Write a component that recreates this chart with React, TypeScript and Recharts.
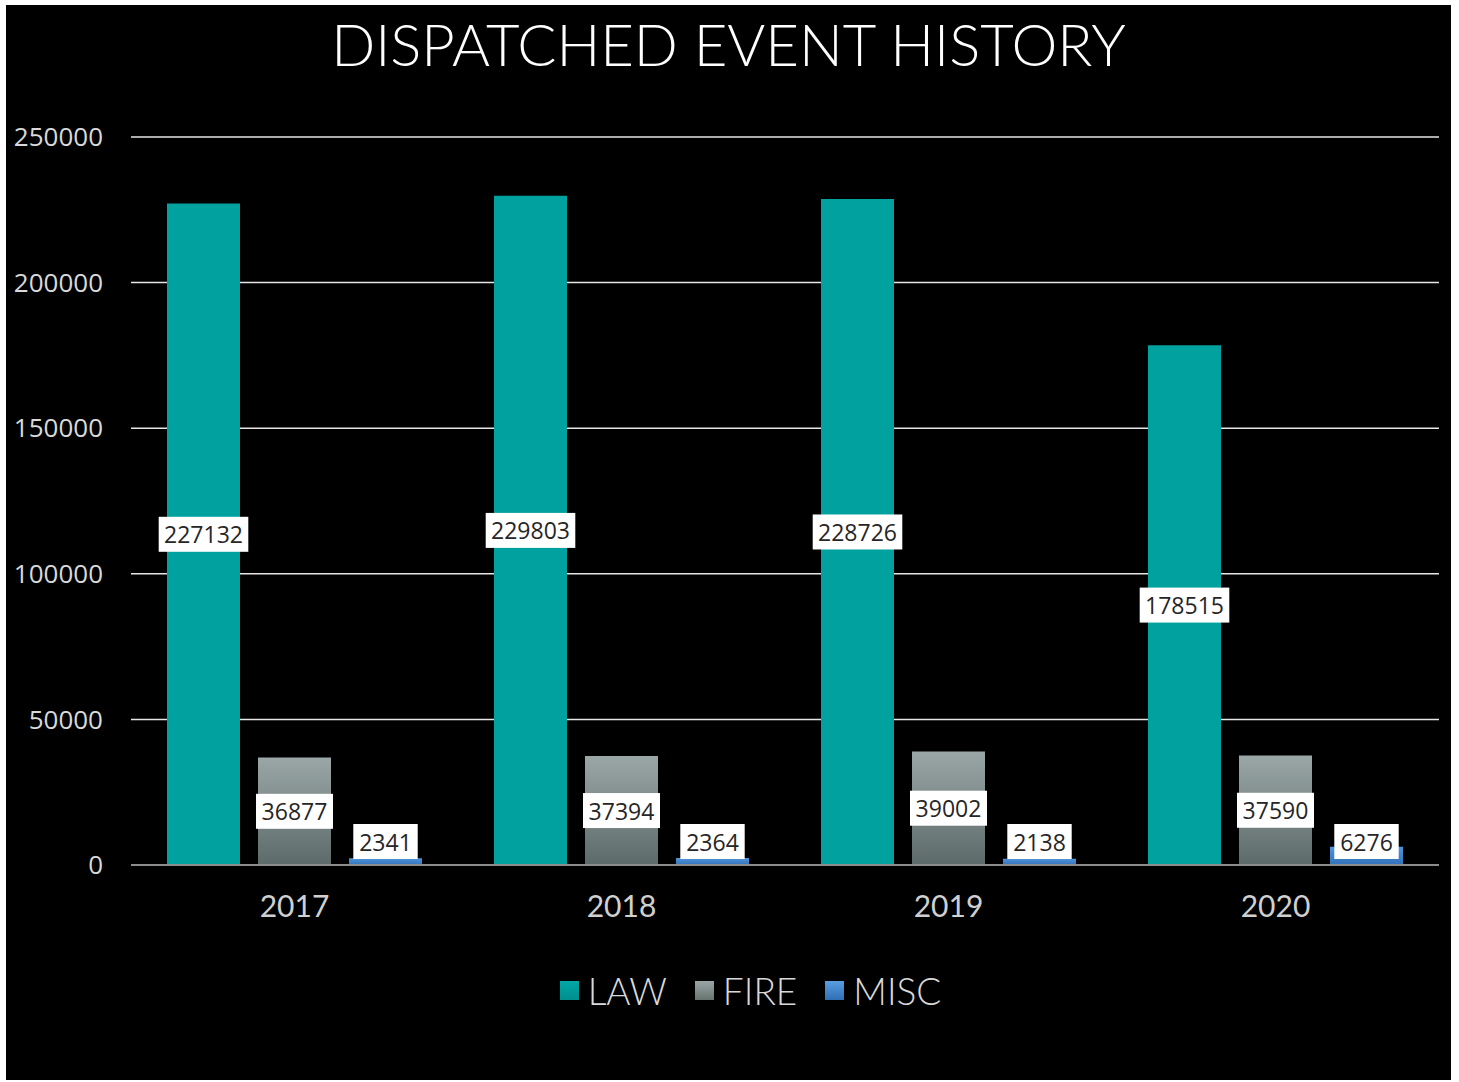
import { BarChart, Bar, XAxis, YAxis, CartesianGrid, LabelList } from 'recharts';

const years = ['2017', '2018', '2019', '2020'];
const law = [227132, 229803, 228726, 178515];
const fire = [36877, 37394, 39002, 37590];
const misc = [2341, 2364, 2138, 6276];
const yTicks = [0, 50000, 100000, 150000, 200000, 250000];

const data = years.map((year, i) => ({ year, LAW: law[i], FIRE: fire[i], MISC: misc[i] }));

const series = [
  { key: 'LAW', fill: '#00a19f', swatch: 'linear-gradient(#00a8a6, #008f8d)' },
  { key: 'FIRE', fill: 'url(#fireGrad)', swatch: 'linear-gradient(#9aa6a6, #66736f)' },
  { key: 'MISC', fill: 'url(#miscGrad)', swatch: 'linear-gradient(#5a9de0, #2f6fb5)' },
];

const PLOT_BOTTOM = 860;

// white box label, centered in the bar but kept above the axis
const renderBoxLabel = (props: any) => {
  const { x, y, width, height, value } = props;
  const text = String(value);
  const boxW = text.length * 12.6 + 14;
  const boxH = 35;
  let cy = y + height / 2;
  if (cy + boxH / 2 > PLOT_BOTTOM - 6) cy = PLOT_BOTTOM - 6 - boxH / 2;
  const cx = x + width / 2;
  return (
    <g>
      <rect x={cx - boxW / 2} y={cy - boxH / 2} width={boxW} height={boxH} fill="#ffffff" />
      <text
        x={cx}
        y={cy}
        textAnchor="middle"
        dominantBaseline="central"
        fill="#262626"
        fontSize={23}
        fontFamily="'Open Sans', sans-serif"
      >
        {text}
      </text>
    </g>
  );
};

export default function App() {
  return (
    <div
      style={{
        position: 'absolute',
        left: 6,
        top: 5,
        width: 1445,
        height: 1075,
        background: '#000',
        fontFamily: 'Lato, sans-serif',
      }}
    >
      <div
        style={{
          position: 'absolute',
          top: 4,
          left: 0,
          width: 1445,
          textAlign: 'center',
          color: '#fff',
          fontSize: 58,
          fontWeight: 300,
          lineHeight: '70px',
        }}
      >
        DISPATCHED EVENT HISTORY
      </div>
      <BarChart
        width={1445}
        height={1075}
        data={data}
        margin={{ top: 132, right: 12, bottom: 185, left: 15 }}
        barSize={73}
        barGap={18}
      >
        <defs>
          <linearGradient id="fireGrad" x1="0" y1="0" x2="0" y2="1">
            <stop offset="0%" stopColor="#9ba7a7" />
            <stop offset="100%" stopColor="#5d6a6a" />
          </linearGradient>
          <linearGradient id="miscGrad" x1="0" y1="0" x2="0" y2="1">
            <stop offset="0%" stopColor="#4f94dc" />
            <stop offset="100%" stopColor="#3273bb" />
          </linearGradient>
        </defs>
        <CartesianGrid vertical={false} stroke="#e6e6e6" strokeWidth={1.5} />
        <XAxis
          dataKey="year"
          height={30}
          tickSize={0}
          tickMargin={31}
          axisLine={{ stroke: '#8c8c8c', strokeWidth: 2 }}
          tick={{ fill: '#d0d0d0', fontSize: 30, fontFamily: 'Lato, sans-serif' }}
        />
        <YAxis
          width={110}
          domain={[0, 250000]}
          ticks={yTicks}
          axisLine={false}
          tickSize={0}
          tickMargin={28}
          tick={{ fill: '#d9d9d9', fontSize: 26, fontFamily: "'Open Sans', sans-serif" }}
        />
        {series.map((s) => (
          <Bar key={s.key} dataKey={s.key} fill={s.fill} isAnimationActive={false}>
            <LabelList dataKey={s.key} content={renderBoxLabel} />
          </Bar>
        ))}
      </BarChart>
      <div
        style={{
          position: 'absolute',
          top: 963,
          left: 22,
          width: 1445,
          display: 'flex',
          justifyContent: 'center',
          gap: 28,
          color: '#d9d9d9',
          fontSize: 37,
          fontWeight: 300,
        }}
      >
        {series.map((s) => (
          <div key={s.key} style={{ display: 'flex', alignItems: 'center' }}>
            <span
              style={{
                display: 'inline-block',
                width: 19,
                height: 19,
                background: s.swatch,
                marginRight: 9,
              }}
            />
            <span>{s.key}</span>
          </div>
        ))}
      </div>
    </div>
  );
}
